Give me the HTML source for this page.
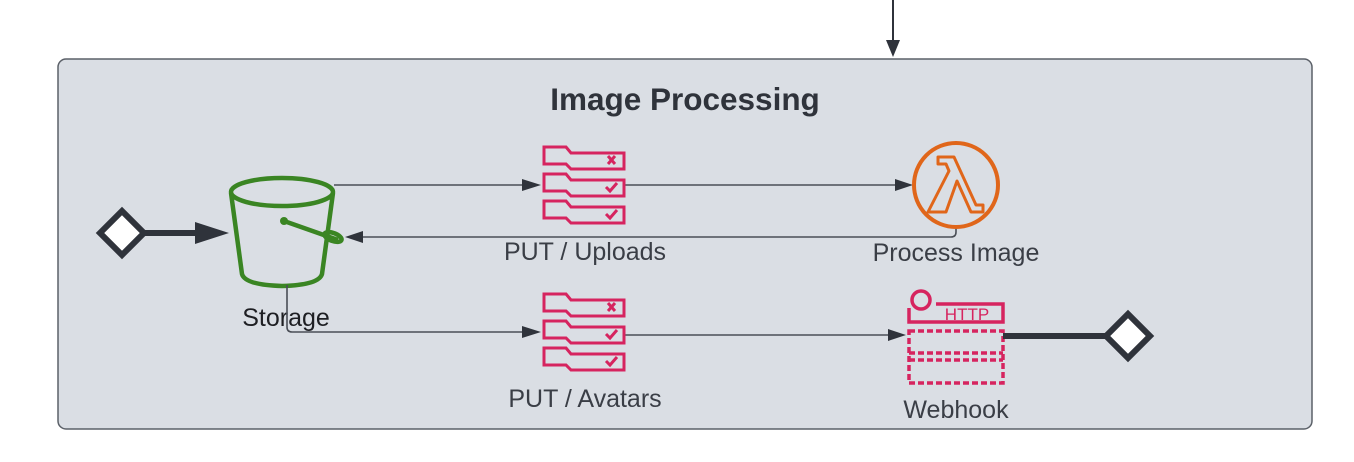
<!DOCTYPE html>
<html><head><meta charset="utf-8"><style>
html,body{margin:0;padding:0;background:#fff;}
svg{display:block;}
text{font-family:"Liberation Sans",sans-serif;}
</style></head><body>
<svg width="1354" height="462" viewBox="0 0 1354 462" xmlns="http://www.w3.org/2000/svg">
<defs>
<g id="sqs" fill="none" stroke="#d6245f" stroke-width="3">
  <path d="M0,0 H22 L27,6 H80 V22 H27 L22,17 H0 Z"/>
  <path d="M0,27 H22 L27,33 H80 V49 H27 L22,44 H0 Z"/>
  <path d="M0,54 H22 L27,60 H80 V76 H27 L22,71 H0 Z"/>
  <path d="M64,9 L71,17 M71,9 L64,17"/>
  <path d="M62,40 L66,44 L73,36"/>
  <path d="M62,67 L66,71 L73,63"/>
</g>
</defs>
<rect x="58" y="59" width="1254" height="370" rx="8" fill="#dadee4" stroke="#5b6068" stroke-width="1.5"/>
<line x1="893" y1="0" x2="893" y2="42" stroke="#2f333b" stroke-width="2"/>
<path d="M886,40 L900,40 L893,57 Z" fill="#2f333b"/>
<text x="685" y="110" text-anchor="middle" font-size="31.5" font-weight="bold" fill="#2f333b">Image Processing</text>

<line x1="140" y1="233" x2="205" y2="233" stroke="#2f333b" stroke-width="6"/>
<path d="M195,222 L229,233 L195,244 Z" fill="#2f333b"/>
<path d="M122,211 L144,233 L122,255 L100,233 Z" fill="#fff" stroke="#2f333b" stroke-width="6"/>

<g fill="none" stroke="#3a8523" stroke-width="4.5">
  <ellipse cx="282" cy="192" rx="51" ry="14"/>
  <path d="M231,193 L242,274 Q245,285 282,286 Q319,285 322,274 L333,193"/>
  <path d="M284,221 L338,240"/>
  <ellipse cx="333" cy="237" rx="9" ry="4" transform="rotate(20 333 237)"/>
</g>
<circle cx="284" cy="221" r="4" fill="#3a8523"/>
<text x="286" y="326" text-anchor="middle" font-size="25" fill="#1e1f23">Storage</text>

<g stroke="#4a4e56" stroke-width="1.6" fill="none">
  <line x1="334" y1="185" x2="525" y2="185"/>
  <line x1="625" y1="185" x2="898" y2="185"/>
  <path d="M956,227 V232 Q956,237 951,237 H360"/>
  <path d="M287,285 V327 Q287,332 292,332 H525"/>
  <line x1="625" y1="335" x2="891" y2="335"/>
</g>
<g fill="#2f333b">
  <path d="M522,179 L541,185 L522,191 Z"/>
  <path d="M895,179 L913,185 L895,191 Z"/>
  <path d="M363,231 L345,237 L363,243 Z"/>
  <path d="M522,326 L541,332 L522,338 Z"/>
  <path d="M888,329 L906,335 L888,341 Z"/>
</g>

<use href="#sqs" x="544" y="147"/>
<use href="#sqs" x="544" y="294"/>
<text x="585" y="260" text-anchor="middle" font-size="25" fill="#3a3e46">PUT / Uploads</text>
<text x="585" y="407" text-anchor="middle" font-size="25" fill="#3a3e46">PUT / Avatars</text>

<circle cx="956" cy="185" r="42" fill="none" stroke="#e0661a" stroke-width="4"/>
<path d="M938,157 H954 L976,205 H983 V212 H971 L957,181 L946,212 H928 L949,171 L946,164 H938 Z" fill="none" stroke="#e0661a" stroke-width="3" stroke-linejoin="round"/>
<text x="956" y="261" text-anchor="middle" font-size="25" fill="#3a3e46">Process Image</text>

<g fill="none" stroke="#d6245f" stroke-width="3.5">
  <circle cx="921" cy="300" r="9"/>
  <path d="M909,308 V322 H1003 V304 H936"/>
  <g stroke-dasharray="6,3">
    <rect x="909" y="331" width="94" height="52"/>
    <line x1="909" y1="353" x2="1003" y2="353"/>
    <line x1="909" y1="360" x2="1003" y2="360"/>
  </g>
</g>
<text x="967" y="320" text-anchor="middle" font-size="17" fill="#d6245f">HTTP</text>
<text x="956" y="418" text-anchor="middle" font-size="25" fill="#3a3e46">Webhook</text>

<line x1="1003" y1="336" x2="1110" y2="336" stroke="#2f333b" stroke-width="6"/>
<path d="M1128,314 L1150,336 L1128,358 L1106,336 Z" fill="#fff" stroke="#2f333b" stroke-width="6"/>
</svg>
</body></html>
